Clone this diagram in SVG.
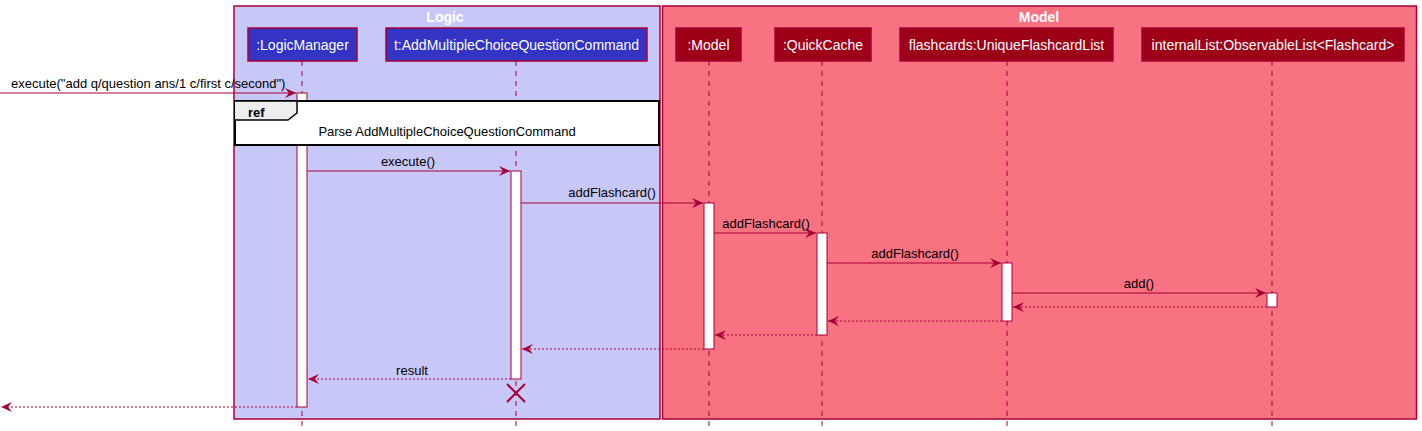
<svg xmlns="http://www.w3.org/2000/svg" width="1422" height="431" viewBox="0 0 1422 431">
<style>
text{font-family:"Liberation Sans",Arial,sans-serif;font-size:13px;}
.box{stroke:#A80036;stroke-width:1.5;}
.pl{fill:#3333C4;stroke:#A80036;stroke-width:1.5;}
.pm{fill:#9D0017;stroke:#A80036;stroke-width:1.5;}
.pt{fill:#FFFFFF;text-anchor:middle;font-size:14px;}
.life{stroke:#A80036;stroke-width:1;stroke-dasharray:5,5;fill:none;}
.act{fill:#FFFFFF;stroke:#A80036;stroke-width:1;}
.msg{stroke:#A80036;stroke-width:1;fill:none;}
.ret{stroke:#A80036;stroke-width:1;stroke-dasharray:2,2;fill:none;}
.lbl{fill:#000000;text-anchor:middle;}
.gt{fill:#FFFFFF;font-weight:bold;text-anchor:middle;font-size:14px;}
</style>
<defs>
<marker id="ah" markerWidth="12" markerHeight="10" refX="11" refY="5" orient="auto" markerUnits="userSpaceOnUse">
<path d="M0,0 L11,5 L0,10 L4,5 Z" fill="#A80036"/>
</marker>
</defs>
<g id="box-logic">
<rect class="box" x="234" y="6" width="426" height="413" fill="#C8C8F8"/>
<text class="gt" x="445" y="22">Logic</text>
</g>
<g id="box-model">
<rect class="box" x="662.5" y="6" width="754" height="413" fill="#F87282"/>
<text class="gt" x="1039" y="22">Model</text>
</g>
<g id="lifelines">
<line class="life" x1="302" y1="61" x2="302" y2="426"/>
<line class="life" x1="516" y1="61" x2="516" y2="426"/>
<line class="life" x1="709" y1="61" x2="709" y2="426"/>
<line class="life" x1="822" y1="61" x2="822" y2="426"/>
<line class="life" x1="1007" y1="61" x2="1007" y2="426"/>
<line class="life" x1="1272" y1="61" x2="1272" y2="426"/>
</g>
<g id="p-logicmanager">
<rect class="pl" x="248" y="28" width="109" height="33"/>
<text class="pt" x="302.5" y="50">:LogicManager</text>
</g>
<g id="p-command">
<rect class="pl" x="386" y="28" width="261" height="33"/>
<text class="pt" x="516.5" y="50">t:AddMultipleChoiceQuestionCommand</text>
</g>
<g id="p-model">
<rect class="pm" x="676" y="28" width="65" height="33"/>
<text class="pt" x="708.5" y="50">:Model</text>
</g>
<g id="p-quickcache">
<rect class="pm" x="775" y="28" width="96" height="33"/>
<text class="pt" x="823" y="50">:QuickCache</text>
</g>
<g id="p-flashcards">
<rect class="pm" x="900" y="28" width="213" height="33"/>
<text class="pt" x="1006.5" y="50">flashcards:UniqueFlashcardList</text>
</g>
<g id="p-internallist">
<rect class="pm" x="1142" y="28" width="262" height="33"/>
<text class="pt" x="1273" y="50">internalList:ObservableList&lt;Flashcard&gt;</text>
</g>
<g id="activations">
<rect class="act" x="297" y="93" width="10" height="314"/>
<rect class="act" x="511" y="171" width="10" height="208"/>
<rect class="act" x="704" y="203" width="10" height="146"/>
<rect class="act" x="817" y="233" width="10" height="102"/>
<rect class="act" x="1002" y="263" width="10" height="58"/>
<rect class="act" x="1267" y="293" width="10" height="14"/>
</g>
<g id="ref">
<rect x="235" y="101" width="424" height="44" fill="#FFFFFF" stroke="#000000" stroke-width="2"/>
<path d="M235,101 L297,101 L297,113 L288,120 L235,120" fill="#EEEEEE" stroke="#000000" stroke-width="1.5"/>
<text x="248" y="117" font-weight="bold" fill="#000000">ref</text>
<text class="lbl" x="447" y="136">Parse AddMultipleChoiceQuestionCommand</text>
</g>
<g id="connectors">
<line class="msg" x1="0" y1="93" x2="296" y2="93" marker-end="url(#ah)"/>
<text x="11" y="88" fill="#000000">execute("add q/question ans/1 c/first c/second")</text>
<line class="msg" x1="307" y1="171" x2="510" y2="171" marker-end="url(#ah)"/>
<text class="lbl" x="408" y="166">execute()</text>
<line class="msg" x1="521" y1="203" x2="703" y2="203" marker-end="url(#ah)"/>
<text class="lbl" x="612" y="197">addFlashcard()</text>
<line class="msg" x1="714" y1="233" x2="816" y2="233" marker-end="url(#ah)"/>
<text class="lbl" x="766" y="228">addFlashcard()</text>
<line class="msg" x1="827" y1="263" x2="1001" y2="263" marker-end="url(#ah)"/>
<text class="lbl" x="915" y="258">addFlashcard()</text>
<line class="msg" x1="1012" y1="293" x2="1266" y2="293" marker-end="url(#ah)"/>
<text class="lbl" x="1139" y="288">add()</text>
<line class="ret" x1="1267" y1="307" x2="1013" y2="307" marker-end="url(#ah)"/>
<line class="ret" x1="1002" y1="321" x2="828" y2="321" marker-end="url(#ah)"/>
<line class="ret" x1="817" y1="335" x2="715" y2="335" marker-end="url(#ah)"/>
<line class="ret" x1="704" y1="349" x2="522" y2="349" marker-end="url(#ah)"/>
<line class="ret" x1="511" y1="379" x2="308" y2="379" marker-end="url(#ah)"/>
<text class="lbl" x="412" y="375">result</text>
<line class="ret" x1="297" y1="407" x2="1" y2="407" marker-end="url(#ah)"/>
<path d="M507,384 L525,402 M525,384 L507,402" stroke="#A80036" stroke-width="2" fill="none"/>
</g>
</svg>
